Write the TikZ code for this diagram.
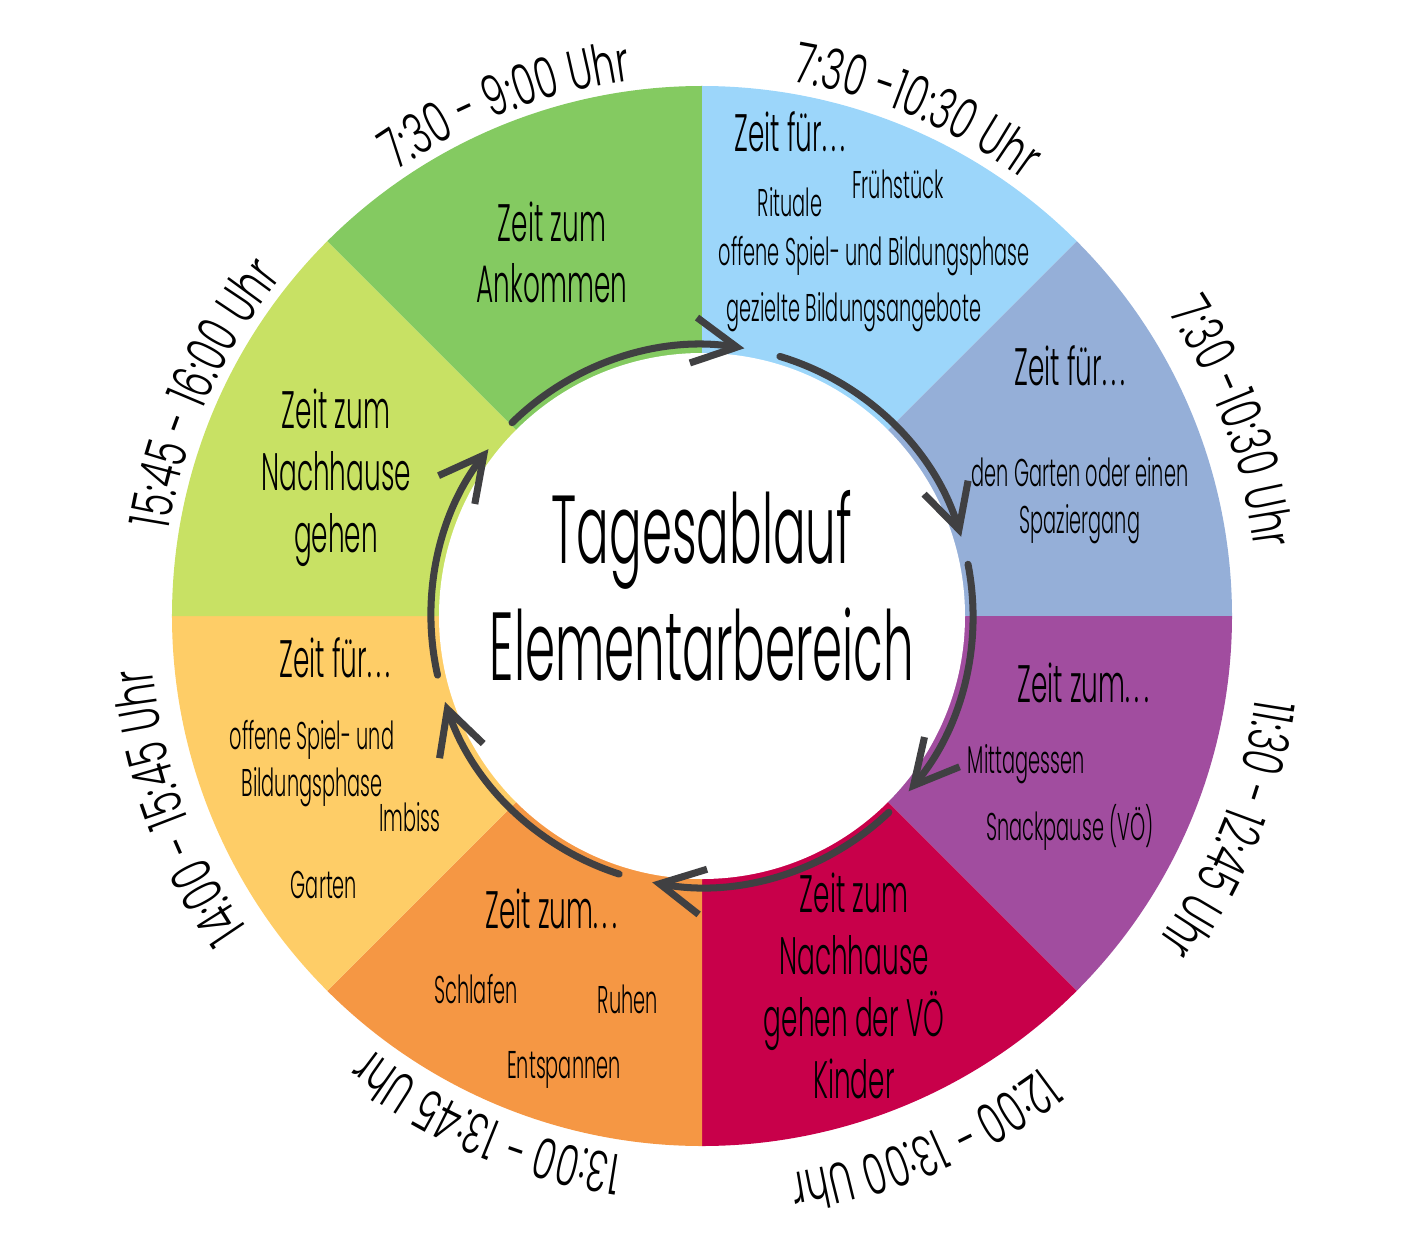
\documentclass[tikz,border=0pt]{standalone}
\usepackage{fontspec}
\setmainfont{Poppins}[FakeStretch=0.5, UprightFont={* Light}]
\newfontfamily\uhrfont{Poppins}[FakeStretch=0.65, UprightFont={* Light}]
\newcommand\punkte{.\kern1.3pt.\kern1.3pt.}
\usetikzlibrary{arrows.meta,decorations.text}
\definecolor{gruen}{HTML}{84CA61}
\definecolor{hellblau}{HTML}{9CD6FA}
\definecolor{graublau}{HTML}{95AFD8}
\definecolor{lila}{HTML}{A14D9F}
\definecolor{rot}{HTML}{C8004A}
\definecolor{dunkelorange}{HTML}{F59744}
\definecolor{gelb}{HTML}{FECD67}
\definecolor{hellgruen}{HTML}{C8E164}
\definecolor{pfeilgrau}{HTML}{404042}
\begin{document}
\begin{tikzpicture}[line join=round, line cap=round, >={Straight Barb[length=4.4mm,width=4.6mm]},
	titel/.style={font=\fontsize{15}{17.6}\selectfont, align=center, anchor=base},
	eintrag/.style={font=\fontsize{11}{13.3}\selectfont, align=center, anchor=base},
	uhrzeit/.style={decorate, decoration={text along path, text align=center, text={|\uhrfont\fontsize{16}{16}\selectfont|#1}}}]
	\useasboundingbox (-7.02,-6.25) rectangle (7.07,6.16);
	% Ring aus acht Segmenten
	\foreach \w/\f in {90/gruen,45/hellblau,0/graublau,-45/lila,-90/rot,-135/dunkelorange,180/gelb,135/hellgruen}
		\fill[\f] (0,0) -- (\w:5.3) arc[start angle=\w, end angle=\w+45, radius=5.3] -- cycle;
	\fill[white] (0,0) circle[radius=2.63];
	% Pfeile im Kreis
	\foreach \s/\e [count=\i] in {134.5/81,73.3/17,11/-40.3,-46.4/-100.6,-107.8/-161.5,-167.4/-218}{
		\coordinate (p\i) at (\s:2.71);
		\draw[->, line width=2pt, pfeilgrau] (p\i) arc[start angle=\s, end angle=\e, radius=2.71];
	}
	% Mitte
	\node[align=center, anchor=base, font=\fontsize{27.5}{33.2}\selectfont] (mitte) at (0,-0.64) {Tagesablauf\\Elementarbereich};
	% Segmente
	\node[titel] (ankommen) at (-1.50,3.13) {Zeit zum\\Ankommen};
	\node[titel] (fruehTitel) at (0.88,4.64) {Zeit für\punkte};
	\node[eintrag] (fruehstueck) at (1.96,4.18) {Frühstück};
	\node[eintrag] (rituale) at (0.88,3.99) {Rituale};
	\node[eintrag] (spielphase) at (1.72,3.51) {offene Spiel- und Bildungsphase};
	\node[eintrag] (angebote) at (1.52,2.94) {gezielte Bildungsangebote};
	\node[titel] (gartenTitel) at (3.68,2.31) {Zeit für\punkte};
	\node[eintrag] (spaziergang) at (3.78,0.83) {den Garten oder einen\\Spaziergang};
	\node[titel] (essenTitel) at (3.81,-0.86) {Zeit zum\punkte};
	\node[eintrag] (mittagessen) at (3.24,-1.57) {Mittagessen};
	\node[eintrag] (snack) at (3.68,-2.24) {Snackpause (VÖ)};
	\node[titel] (abholungVoe) at (1.52,-4.82) {Zeit zum\\Nachhause\\gehen der VÖ\\Kinder};
	\node[titel] (ruheTitel) at (-1.51,-3.12) {Zeit zum\punkte};
	\node[eintrag] (schlafen) at (-2.26,-3.87) {Schlafen};
	\node[eintrag] (ruhen) at (-0.74,-3.97) {Ruhen};
	\node[eintrag] (entspannen) at (-1.38,-4.62) {Entspannen};
	\node[titel] (nachmittagTitel) at (-3.67,-0.61) {Zeit für\punkte};
	\node[eintrag] (spielphaseB) at (-3.90,-1.80) {offene Spiel- und\\Bildungsphase};
	\node[eintrag] (imbiss) at (-2.92,-2.15) {Imbiss};
	\node[eintrag] (garten) at (-3.78,-2.82) {Garten};
	\node[titel] (abholung) at (-3.66,0.64) {Zeit zum\\Nachhause\\gehen};
	% Uhrzeiten am Rand
	\path[uhrzeit={7:30 - 9:00 Uhr}] (151:5.4) arc[start angle=151, end angle=71, radius=5.4];
	\path[uhrzeit={7:30 -10:30 Uhr}] (107:5.42) arc[start angle=107, end angle=27, radius=5.42];
	\path[uhrzeit={7:30 -10:30 Uhr}] (60:5.56) arc[start angle=60, end angle=-20, radius=5.56];
	\path[uhrzeit={11:30 - 12:45 Uhr}] (18:5.6) arc[start angle=18, end angle=-62, radius=5.6];
	\path[uhrzeit={12:00 - 13:00 Uhr}] (-27:5.64) arc[start angle=-27, end angle=-107, radius=5.64];
	\path[uhrzeit={13:00 - 13:45 Uhr}] (-73:5.45) arc[start angle=-73, end angle=-153, radius=5.45];
	\path[uhrzeit={14:00 - 15:45 Uhr}] (-120:5.52) arc[start angle=-120, end angle=-200, radius=5.52];
	\path[uhrzeit={15:45 - 16:00 Uhr}] (196:5.4) arc[start angle=196, end angle=116, radius=5.4];
\end{tikzpicture}
\end{document}
